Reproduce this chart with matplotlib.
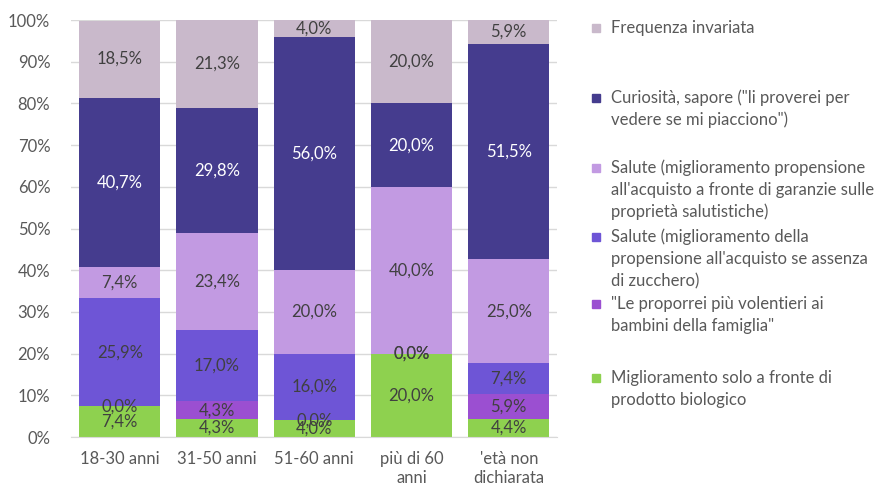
import numpy as np
import matplotlib
matplotlib.use("Agg")
import matplotlib.pyplot as plt
from matplotlib.patches import Rectangle

plt.rcParams['font.family'] = ['Lato', 'DejaVu Sans']

categories = ['18-30 anni', '31-50 anni', '51-60 anni', 'più di 60\nanni', "'età non\ndichiarata"]

# stacked from bottom to top
series = [
    'Miglioramento solo a fronte di\nprodotto biologico',
    '"Le proporrei più volentieri ai\nbambini della famiglia"',
    "Salute (miglioramento della\npropensione all'acquisto se assenza\ndi zucchero)",
    "Salute (miglioramento propensione\nall'acquisto a fronte di garanzie sulle\nproprietà salutistiche)",
    'Curiosità, sapore ("li proverei per\nvedere se mi piacciono")',
    'Frequenza invariata',
]
biologico = [7.4, 4.3, 4.0, 20.0, 4.4]
bambini = [0.0, 4.3, 0.0, 0.0, 5.9]
zucchero = [25.9, 17.0, 16.0, 0.0, 7.4]
garanzie = [7.4, 23.4, 20.0, 40.0, 25.0]
curiosita = [40.7, 29.8, 56.0, 20.0, 51.5]
invariata = [18.5, 21.3, 4.0, 20.0, 5.9]

values = [biologico, bambini, zucchero, garanzie, curiosita, invariata]
colors = ['#8ED14F', '#9B4FD1', '#6E55D6', '#C29AE2', '#453C8E', '#C9B9CB']
label_colors = ['#404040', '#404040', '#404040', '#404040', '#FFFFFF', '#404040']

fig = plt.figure(figsize=(8.89, 4.9), dpi=100)
ax = fig.add_axes([0.08, 0.108, 0.547, 0.851])

x = np.arange(len(categories))
bottom = np.zeros(len(categories))
for vals, col, lc in zip(values, colors, label_colors):
    vals = np.array(vals)
    ax.bar(x, vals, 0.835, bottom=bottom, color=col, zorder=2)
    for xi, b, v in zip(x, bottom, vals):
        ax.text(xi, b + v / 2, f'{v:.1f}%'.replace('.', ','), ha='center', va='center',
                fontsize=12, color=lc, zorder=3)
    bottom += vals

ax.set_xlim(-0.5, len(categories) - 0.5)
ax.set_ylim(0, 100)
ax.set_yticks(np.arange(0, 101, 10))
ax.set_yticklabels([f'{t}%' for t in range(0, 101, 10)])
ax.set_xticks(x)
ax.set_xticklabels(categories, linespacing=1.25)
ax.yaxis.grid(True, color='#D9D9D9', linewidth=1, zorder=0)
ax.tick_params(axis='both', length=0, labelsize=12, colors='#595959')
ax.tick_params(axis='y', pad=15)
ax.tick_params(axis='x', pad=10)
for s in ['top', 'right', 'left']:
    ax.spines[s].set_visible(False)
ax.spines['bottom'].set_color('#D9D9D9')

# legend, top entry first; one text per line, 22 px apart
legend_rows = [28, 98, 168, 237, 304, 378]
for name, col, row in zip(series[::-1], colors[::-1], legend_rows):
    fig.patches.append(Rectangle((592 / 889, 1 - (row + 4) / 490), 8 / 889, 8 / 490,
                                 transform=fig.transFigure, color=col))
    for i, line in enumerate(name.split('\n')):
        fig.text(611 / 889, 1 - (row + 22 * i) / 490, line, ha='left', va='center',
                 fontsize=12, color='#595959')

fig.savefig('out.png', dpi=100)
